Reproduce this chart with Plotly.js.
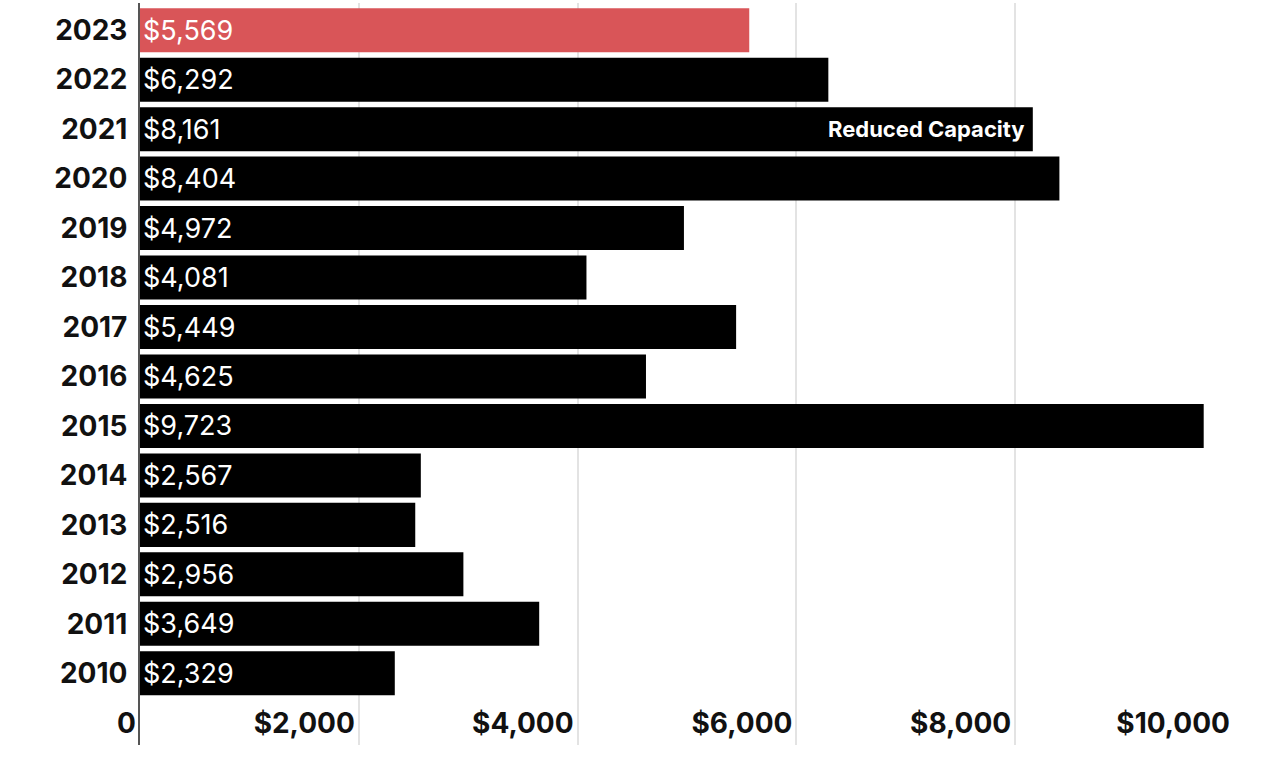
<!DOCTYPE html>
<html><head><meta charset="utf-8">
<script src="https://cdn.plot.ly/plotly-3.0.1.min.js"></script>
<style>html,body{margin:0;padding:0;background:#fff}#chart{width:1278px;height:760px}</style>
</head><body><div id="chart"></div>
<script>
const years = ['2010','2011','2012','2013','2014','2015','2016','2017','2018','2019','2020','2021','2022','2023'];
const values = [2329,3649,2956,2516,2567,9723,4625,5449,4081,4972,8404,8161,6292,5569];
const highlightYear = '2023';
const noteYear = '2021';
const noteText = 'Reduced Capacity';
const xTicks = [0,2000,4000,6000,8000,10000];
const xTickText = ['0','$2,000','$4,000','$6,000','$8,000','$10,000'];

const FONT = 'Inter, Roboto, sans-serif';
const fmt = v => '$' + v.toLocaleString('en-US');
const colors = years.map(y => y === highlightYear ? '#d95558' : '#000000');

const trace = {
  type: 'bar', orientation: 'h',
  x: values, y: years,
  marker: {color: colors, line: {width: 0}},
  text: values.map(fmt),
  textposition: 'inside',
  insidetextanchor: 'start',
  textangle: 0,
  textfont: {family: FONT, size: 27, color: '#ffffff'},
  constraintext: 'none',
  cliponaxis: false,
  hoverinfo: 'none'
};

const layout = {
  width: 1278, height: 760,
  margin: {l: 140, r: 44, t: 3, b: 15},
  paper_bgcolor: '#ffffff', plot_bgcolor: '#ffffff',
  showlegend: false,
  bargap: 0.11,
  font: {family: FONT, color: '#111111'},
  xaxis: {
    range: [0, 10000],
    tickvals: xTicks, ticktext: xTickText,
    ticklabelposition: 'inside left',
    ticklabeloverflow: 'allow',
    ticklabelshift: -4,
    showgrid: true, gridcolor: '#e3e3e3', gridwidth: 2,
    zeroline: false, showline: false, ticks: '',
    tickfont: {family: FONT, size: 28, color: '#111111', weight: 'bold'},
    fixedrange: true
  },
  yaxis: {
    type: 'category',
    categoryorder: 'array', categoryarray: years,
    range: [-1.45, 13.55],
    showgrid: false, zeroline: false,
    showline: true, linecolor: '#555555', linewidth: 2,
    ticks: '', ticklabelstandoff: 5,
    tickfont: {family: FONT, size: 28, color: '#111111', weight: 'bold'},
    fixedrange: true
  },
  annotations: [{
    x: values[years.indexOf(noteYear)], y: years.indexOf(noteYear),
    xref: 'x', yref: 'y', xanchor: 'right', yanchor: 'middle',
    xshift: -6, showarrow: false,
    text: noteText,
    font: {family: FONT, size: 22, color: '#ffffff', weight: 'bold'}
  }]
};

Plotly.newPlot('chart', [trace], layout, {displayModeBar: false, staticPlot: true});
</script></body></html>
